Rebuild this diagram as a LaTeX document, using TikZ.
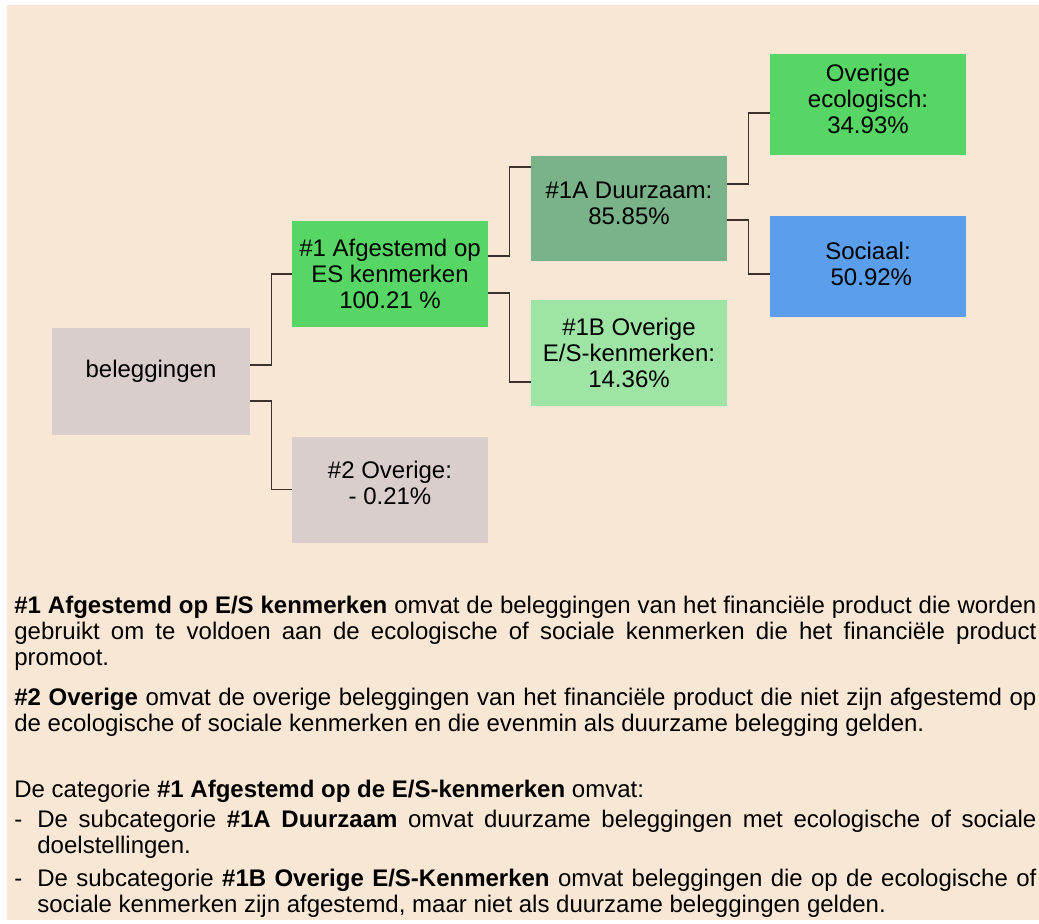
\documentclass[tikz,border=0pt]{standalone}
\usepackage{fontspec}
\setmainfont{Liberation Sans}
\usepackage{xcolor}
\usetikzlibrary{positioning}
\definecolor{mybeige}{RGB}{249,231,213}
\definecolor{mygrey}{RGB}{217,206,204}
\definecolor{mygreen}{RGB}{87,214,102}
\definecolor{mydarkgreen}{RGB}{122,179,138}
\definecolor{mylightgreen}{RGB}{158,228,165}
\definecolor{myblue}{RGB}{91,158,235}
\definecolor{mylines}{RGB}{60,50,45}
\newcommand{\liftup}[1]{\rule[-#1]{0pt}{#1}}

\begin{document}
\begin{tikzpicture}[x=0.5pt,y=-0.5pt,
box/.style={rectangle, inner sep=0pt, minimum width=98pt, minimum height=53pt, align=center, font=\fontsize{12}{13}\selectfont},
conn/.style={draw=mylines, line width=0.7pt},
para/.style={inner sep=0pt, text width=511pt, align=justify, font=\fontsize{12}{13}\selectfont}]
\useasboundingbox (0,0) rectangle (1039,923);
\fill[mybeige] (7,5) rectangle (1039,920);

\node[box, fill=mygrey, minimum width=99pt, minimum height=53.5pt, text height=9pt, text depth=13pt] (bel) at (151,381.5) {beleggingen};
\node[box, fill=mygreen] (af) at (390,274) {\#1 Afgestemd op\\ES kenmerken\\100.21 \%};
\node[box, fill=mygrey] (ov) at (390,489.5) {\#2 Overige:\\- 0.21\%\liftup{7pt}};
\node[box, fill=mydarkgreen, minimum height=52.5pt] (dz) at (629,208.5) {\#1A Duurzaam:\\85.85\%\liftup{5pt}};
\node[box, fill=mylightgreen] (ob) at (629,353) {\#1B Overige\\E/S-kenmerken:\\14.36\%};
\node[box, fill=mygreen, minimum height=50.5pt] (eco) at (868,104.5) {Overige\\ecologisch:\\34.93\%\liftup{6pt}};
\node[box, fill=myblue, minimum height=50.5pt] (soc) at (868,266.5) {Sociaal:\\\ 50.92\%\liftup{3pt}};

\draw[conn] ([yshift=8.25pt]bel.east) -- ++(21,0) |- (af.west);
\draw[conn] ([yshift=-9.75pt]bel.east) -- ++(21,0) |- (ov.west);
\draw[conn] ([yshift=9pt]af.east) -- ++(21,0) |- ([yshift=20.75pt]dz.west);
\draw[conn] ([yshift=-9.5pt]af.east) -- ++(21,0) |- ([yshift=-14.5pt]ob.west);
\draw[conn] ([yshift=12.25pt]dz.east) -- ++(21,0) |- ([yshift=-4.25pt]eco.west);
\draw[conn] ([yshift=-5.75pt]dz.east) -- ++(21,0) |- ([yshift=-3.75pt]soc.west);

\node[para, anchor=north west] (txt) at (14,596) {\parindent=0pt \hyphenpenalty=10000 \exhyphenpenalty=10000
{\bfseries \#1 Afgestemd op E/S kenmerken} omvat de beleggingen van het financiële product die worden gebruikt om te voldoen aan de ecologische of sociale kenmerken die het financiële product promoot.\par
\vspace{7pt}
{\bfseries \#2 Overige} omvat de overige beleggingen van het financiële product die niet zijn afgestemd op de ecologische of sociale kenmerken en die evenmin als duurzame belegging gelden.\par
\vspace{20pt}
De categorie {\bfseries \#1 Afgestemd op de E/S-kenmerken} omvat:\par
\vspace{2pt}
\hangindent=11.5pt \hangafter=1 \makebox[11.5pt][l]{-}De subcategorie {\bfseries \#1A Duurzaam} omvat duurzame beleggingen met ecologische of sociale doelstellingen.\par
\vspace{3.5pt}
\hangindent=11.5pt \hangafter=1 \makebox[11.5pt][l]{-}De subcategorie {\bfseries \#1B Overige E/S-Kenmerken} omvat beleggingen die op de ecologische of sociale kenmerken zijn afgestemd, maar niet als duurzame beleggingen gelden.\par};
\end{tikzpicture}
\end{document}
